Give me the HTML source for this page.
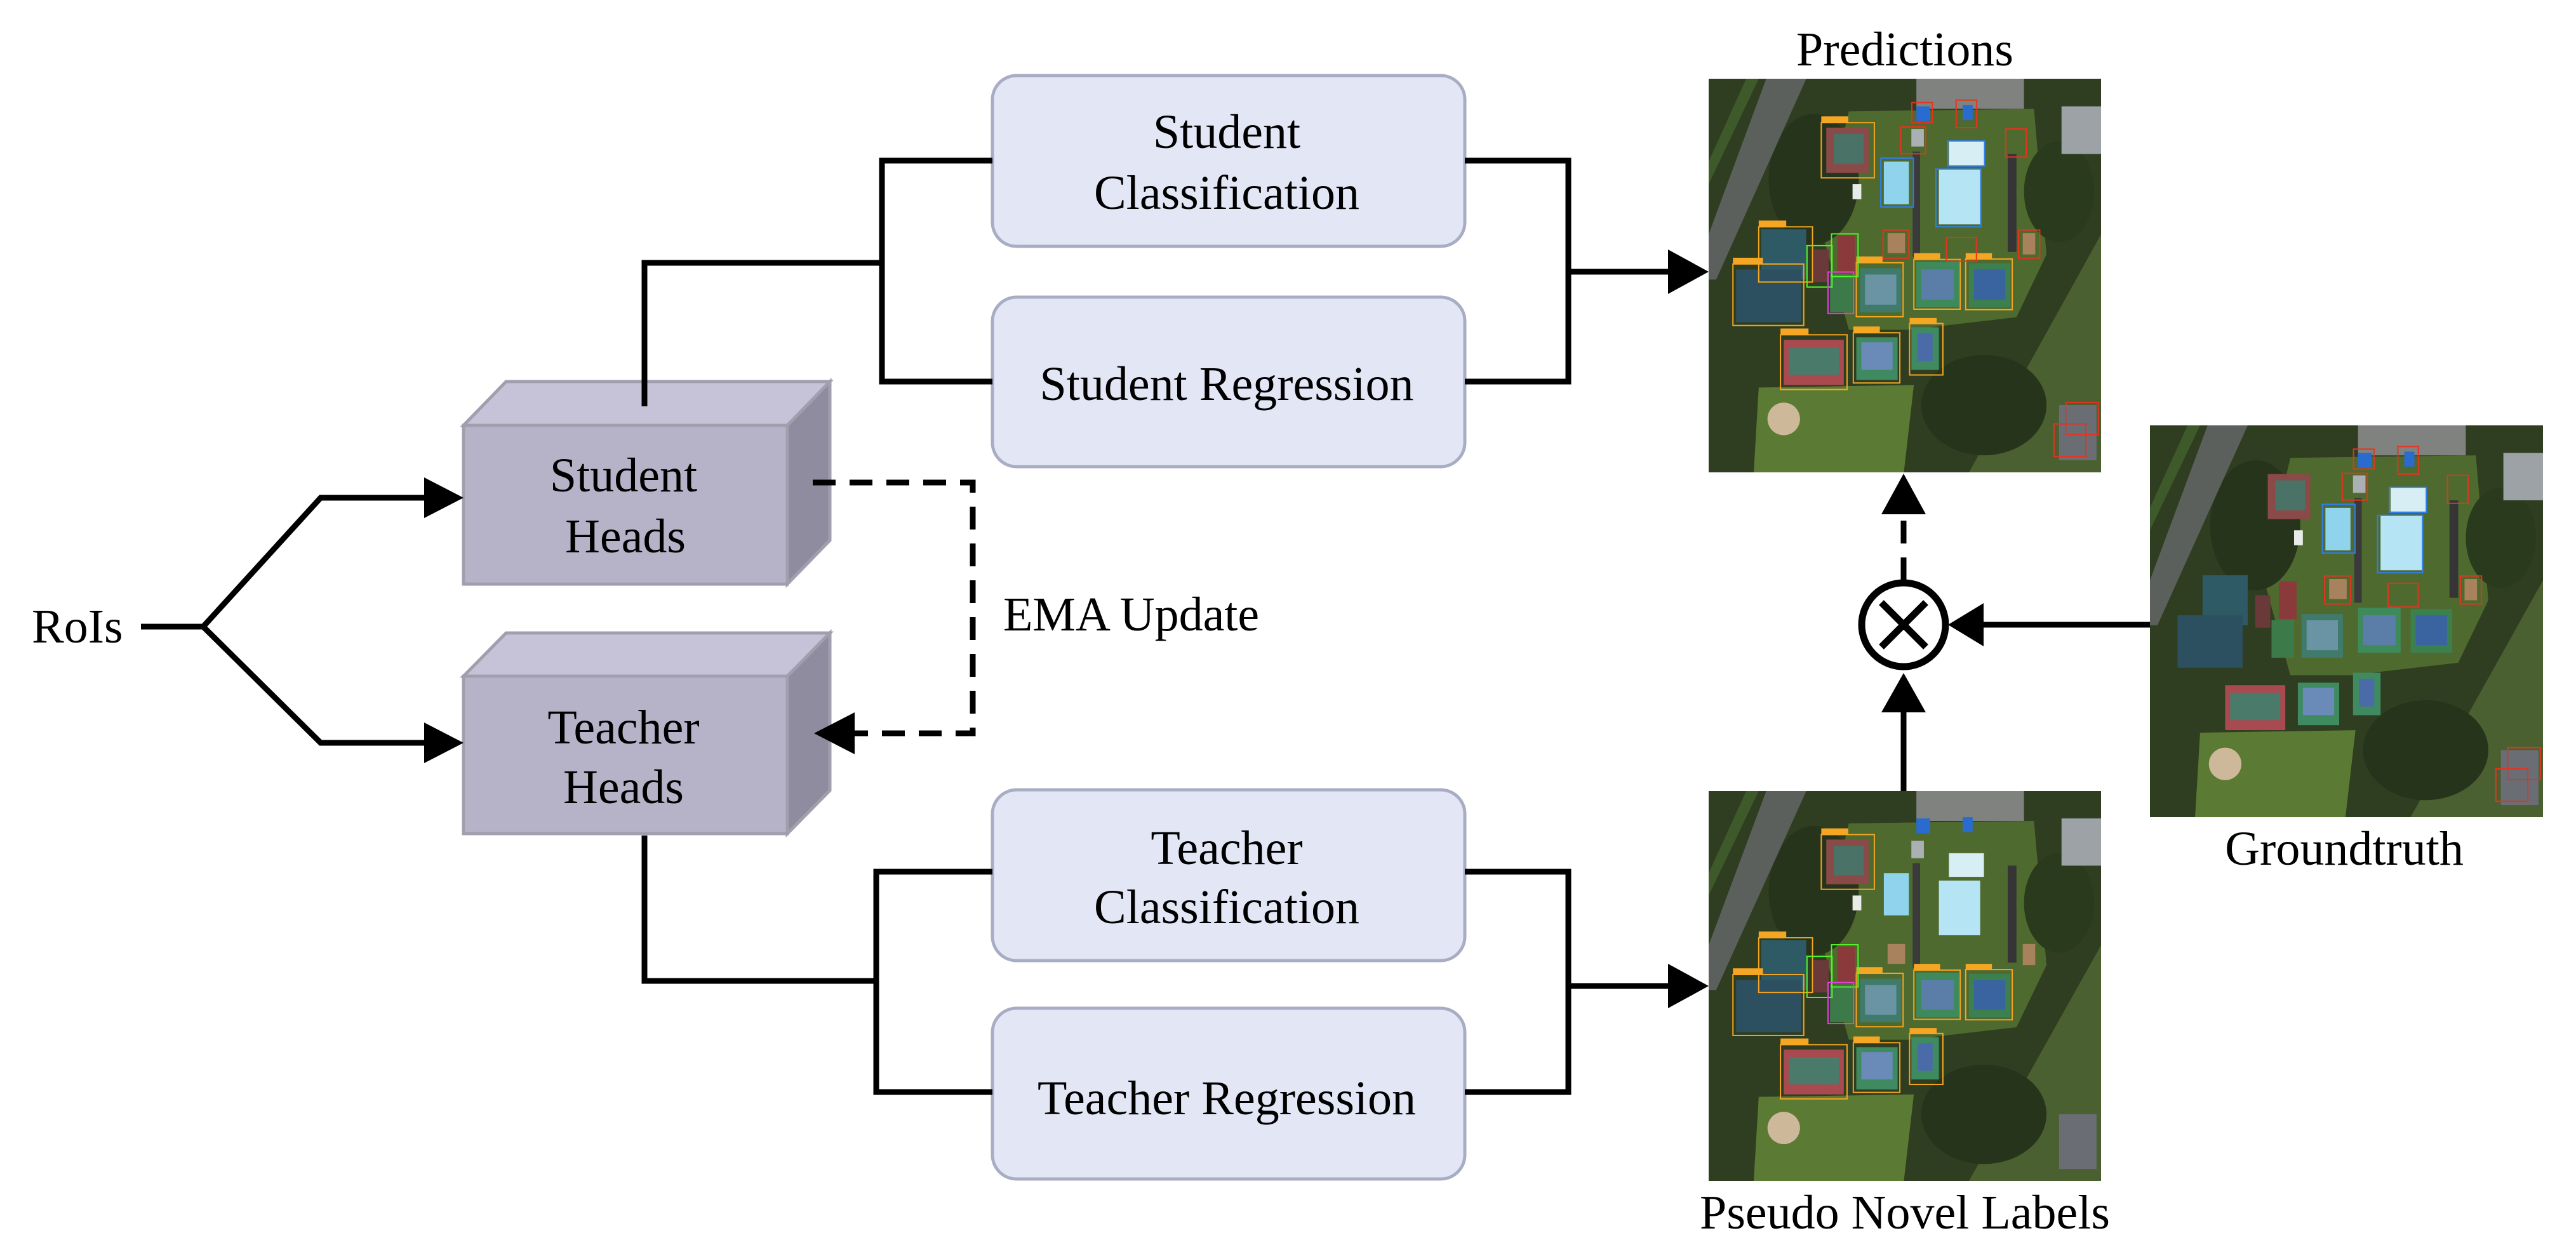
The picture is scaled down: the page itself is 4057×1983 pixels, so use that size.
<!DOCTYPE html>
<html><head><meta charset="utf-8"><style>
html,body{margin:0;padding:0;background:#fff;}
svg{display:block;}
text{font-family:"Liberation Serif",serif;font-size:76px;fill:#000;}
</style></head><body>
<svg width="4057" height="1983" viewBox="0 0 4057 1983" xmlns="http://www.w3.org/2000/svg">
<defs>
<g id="scene">
<rect x="0" y="0" width="1568" height="1568" fill="#2f3d20"/>
<path d="M560 130 L1300 120 L1350 700 L1230 950 L800 1000 L560 1000 L450 600 Z" fill="#4f6a2e"/>
<path d="M200 1230 L820 1220 L780 1568 L180 1568 Z" fill="#5b7a34"/>
<path d="M1568 620 L1568 1568 L1040 1568 Z" fill="#4a6030"/>
<ellipse cx="420" cy="400" rx="180" ry="260" fill="#26341b"/>
<ellipse cx="1100" cy="1300" rx="250" ry="200" fill="#26341b"/>
<ellipse cx="1400" cy="450" rx="140" ry="200" fill="#2a3a1c"/>
<polygon points="230,0 390,0 30,800 0,800 0,620" fill="#5c605c"/>
<polygon points="150,0 200,0 0,420 0,330" fill="#3f5a2a"/>
<rect x="830" y="0" width="430" height="120" fill="#7f827e"/>
<rect x="1410" y="110" width="158" height="190" fill="#9ca2a6"/>
<rect x="810" y="200" width="50" height="70" fill="#aab0b4"/>
<rect x="575" y="420" width="35" height="60" fill="#e8ece8"/>
<rect x="700" y="330" width="100" height="170" fill="#8fd3ec"/>
<rect x="960" y="250" width="140" height="95" fill="#d8eef5"/>
<rect x="920" y="360" width="165" height="220" fill="#b5e4f4"/>
<rect x="815" y="290" width="30" height="420" fill="#3a3a3a"/>
<rect x="1195" y="300" width="35" height="390" fill="#353535"/>
<rect x="715" y="615" width="70" height="80" fill="#a8825c"/>
<rect x="1255" y="615" width="50" height="85" fill="#a8825c"/>
<rect x="830" y="110" width="55" height="60" fill="#2a6bd0"/>
<rect x="1015" y="105" width="40" height="60" fill="#2a6bd0"/>
<rect x="470" y="195" width="170" height="180" fill="#8a4a48"/><rect x="500" y="220" width="120" height="120" fill="#4a7266"/>
<rect x="210" y="600" width="180" height="200" fill="#2e5a66"/>
<rect x="110" y="760" width="260" height="210" fill="#2d5060"/>
<rect x="420" y="680" width="60" height="130" fill="#6a3a3a"/>
<rect x="515" y="625" width="70" height="150" fill="#8a3a3a"/>
<rect x="485" y="780" width="90" height="150" fill="#3d7a4a"/>
<rect x="605" y="755" width="165" height="175" fill="#3f7a6a"/><rect x="625" y="780" width="125" height="120" fill="#6a94a4"/>
<rect x="830" y="730" width="170" height="180" fill="#3f8a5a"/><rect x="850" y="760" width="130" height="120" fill="#5a7ea8"/>
<rect x="1040" y="735" width="165" height="175" fill="#3d8050"/><rect x="1060" y="760" width="125" height="120" fill="#3a64a0"/>
<rect x="300" y="1040" width="240" height="180" fill="#a84a50"/><rect x="320" y="1070" width="200" height="110" fill="#4a7a6a"/>
<rect x="590" y="1030" width="165" height="170" fill="#3f8a60"/><rect x="610" y="1050" width="125" height="110" fill="#6a8ab8"/>
<rect x="810" y="990" width="110" height="170" fill="#3f8a60"/><rect x="835" y="1015" width="60" height="110" fill="#4a6aa8"/>
<ellipse cx="300" cy="1355" rx="65" ry="65" fill="#cdb89a"/>
<rect x="1400" y="1300" width="150" height="220" fill="#6a6e74"/>
</g>
<g id="obox" fill="none" stroke-width="5">
<g stroke="#f5a623">
<rect x="450" y="175" width="212" height="220"/><rect x="200" y="590" width="215" height="220"/><rect x="97" y="738" width="283" height="245"/><rect x="590" y="733" width="187" height="215"/><rect x="820" y="720" width="185" height="198"/><rect x="1027" y="718" width="186" height="202"/><rect x="287" y="1020" width="266" height="218"/><rect x="578" y="1012" width="186" height="200"/><rect x="803" y="975" width="133" height="205"/>
</g>
<g fill="#f5a623" stroke="none">
<rect x="450" y="150" width="108" height="25"/><rect x="200" y="565" width="110" height="25"/><rect x="97" y="713" width="120" height="25"/><rect x="590" y="708" width="105" height="25"/><rect x="820" y="695" width="105" height="25"/><rect x="1027" y="695" width="105" height="25"/><rect x="287" y="995" width="112" height="25"/><rect x="578" y="987" width="106" height="25"/><rect x="803" y="953" width="108" height="25"/>
</g>
<g stroke="#52f52a"><rect x="393" y="665" width="100" height="165"/><rect x="491" y="618" width="106" height="170"/></g>
<g stroke="#e040e0"><rect x="477" y="770" width="102" height="165"/></g>
</g>
<g id="rbbox" fill="none" stroke-width="5">
<g stroke="#e8321f">
<rect x="812" y="95" width="82" height="80"/><rect x="989" y="85" width="82" height="110"/><rect x="767" y="192" width="100" height="107"/><rect x="1187" y="200" width="82" height="112"/><rect x="697" y="603" width="103" height="112"/><rect x="950" y="632" width="120" height="95"/><rect x="1238" y="603" width="85" height="112"/><rect x="1427" y="1290" width="130" height="128"/><rect x="1380" y="1375" width="127" height="130"/>
</g>
<g stroke="#2d7ff0"><rect x="688" y="316" width="130" height="195"/><rect x="955" y="248" width="148" height="100"/><rect x="908" y="360" width="180" height="230"/></g>
</g>
</defs>

<!-- images -->
<svg x="2691" y="124" width="618" height="620" viewBox="0 0 1568 1568" preserveAspectRatio="none"><use href="#scene"/><use href="#obox"/><use href="#rbbox"/></svg>
<svg x="2691" y="1246" width="618" height="614" viewBox="0 0 1568 1568" preserveAspectRatio="none"><use href="#scene"/><use href="#obox"/></svg>
<svg x="3386" y="670" width="619" height="617" viewBox="0 0 1568 1568" preserveAspectRatio="none"><use href="#scene"/><use href="#rbbox"/></svg>

<text x="3000" y="78" text-anchor="middle" dominant-baseline="central">Predictions</text>
<text x="3692" y="1337" text-anchor="middle" dominant-baseline="central">Groundtruth</text>
<text x="3000" y="1910" text-anchor="middle" dominant-baseline="central">Pseudo Novel Labels</text>

<!-- boxes -->
<g fill="#e3e6f5" stroke="#a9adc4" stroke-width="5">
<rect x="1563" y="119" width="744" height="269" rx="38"/>
<rect x="1563" y="468" width="744" height="267" rx="38"/>
<rect x="1563" y="1244" width="744" height="269" rx="38"/>
<rect x="1563" y="1588" width="744" height="269" rx="38"/>
</g>
<text x="1932" y="208" text-anchor="middle" dominant-baseline="central">Student</text>
<text x="1932" y="304" text-anchor="middle" dominant-baseline="central">Classification</text>
<text x="1932" y="605" text-anchor="middle" dominant-baseline="central">Student Regression</text>
<text x="1932" y="1336" text-anchor="middle" dominant-baseline="central">Teacher</text>
<text x="1932" y="1429" text-anchor="middle" dominant-baseline="central">Classification</text>
<text x="1932" y="1730" text-anchor="middle" dominant-baseline="central">Teacher Regression</text>

<!-- cubes -->
<g stroke="#a09fae" stroke-width="5" stroke-linejoin="miter">
<polygon points="730,670 797,601 1307,601 1240,670" fill="#c6c3d9"/>
<polygon points="1240,670 1307,601 1307,851 1240,920" fill="#908c9f"/>
<rect x="730" y="670" width="510" height="250" fill="#b6b3c9"/>
<polygon points="730,1065 797,997 1307,997 1240,1065" fill="#c6c3d9"/>
<polygon points="1240,1065 1307,997 1307,1245 1240,1313" fill="#908c9f"/>
<rect x="730" y="1065" width="510" height="248" fill="#b6b3c9"/>
</g>
<text x="982" y="749" text-anchor="middle" dominant-baseline="central">Student</text>
<text x="985" y="845" text-anchor="middle" dominant-baseline="central">Heads</text>
<text x="982" y="1146" text-anchor="middle" dominant-baseline="central">Teacher</text>
<text x="982" y="1240" text-anchor="middle" dominant-baseline="central">Heads</text>

<text x="50" y="987" dominant-baseline="central">RoIs</text>
<text x="1580" y="968" dominant-baseline="central">EMA Update</text>

<!-- connectors -->
<g fill="none" stroke="#000" stroke-width="9" stroke-linejoin="miter">
<polyline points="222,987 320,987 505,784 672,784"/>
<polyline points="320,987 505,1170 672,1170"/>
<polyline points="1015,640 1015,414 1389,414"/>
<polyline points="1563,253 1389,253 1389,601 1563,601"/>
<polyline points="2307,253 2470,253 2470,601 2307,601"/>
<polyline points="2470,428 2630,428"/>
<polyline points="1015,1316 1015,1545 1380,1545"/>
<polyline points="1563,1373 1380,1373 1380,1720 1563,1720"/>
<polyline points="2307,1373 2470,1373 2470,1720 2307,1720"/>
<polyline points="2470,1553 2630,1553"/>
<polyline points="3386,984 3120,984"/>
<polyline points="2998,1246 2998,1118"/>
<polyline points="1280,760 1532,760 1532,1155 1340,1155" stroke-dasharray="36,22"/>
<polyline points="2998,914 2998,808" stroke-dasharray="36,22"/>
<circle cx="2998" cy="984" r="66" stroke-width="11"/>
<line x1="2963" y1="949" x2="3033" y2="1019" stroke-width="11"/>
<line x1="3033" y1="949" x2="2963" y2="1019" stroke-width="11"/>
</g>
<g fill="#000">
<polygon points="668,752 730,784 668,816"/>
<polygon points="668,1138 730,1170 668,1202"/>
<polygon points="2627,393 2691,428 2627,463"/>
<polygon points="2627,1518 2691,1553 2627,1588"/>
<polygon points="3124,950 3068,984 3124,1018"/>
<polygon points="2963,1122 2998,1060 3033,1122"/>
<polygon points="2963,810 2998,746 3033,810"/>
<polygon points="1346,1122 1282,1155 1346,1188"/>
</g>
</svg>
</body></html>
